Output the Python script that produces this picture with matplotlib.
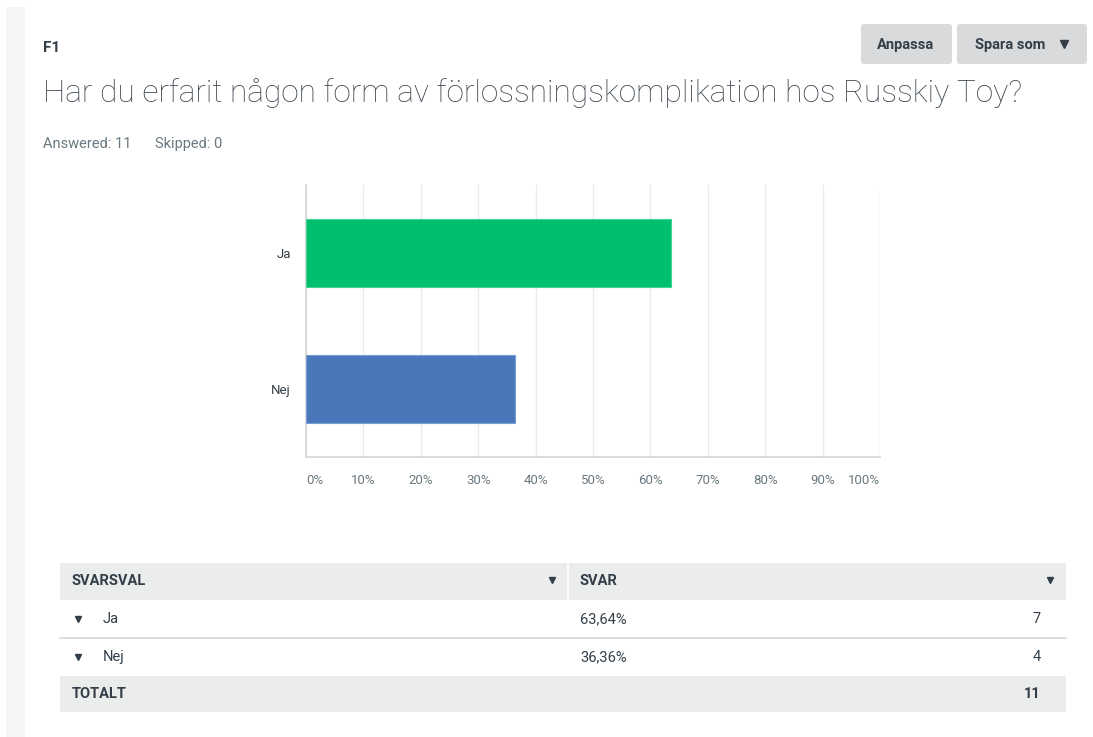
import matplotlib
matplotlib.use('Agg')
import matplotlib.pyplot as plt
from matplotlib.patches import Rectangle, FancyBboxPatch

plt.rcParams['font.family'] = ['Roboto', 'DejaVu Sans']

# survey data
question = 'Har du erfarit någon form av förlossningskomplikation hos Russkiy Toy?'
categories = ['Ja', 'Nej']
pct = [63.64, 36.36]          # percent of answers
counts = [7, 4]
pct_labels = ['63,64%', '36,36%']
answered = 11
skipped = 0
xticks = [0, 10, 20, 30, 40, 50, 60, 70, 80, 90, 100]
bar_cols = ['#00bf6f', '#4a77b9']

W, H = 1093, 737
fig = plt.figure(figsize=(W/100, H/100), dpi=100)

# background layer in pixel coords
bg = fig.add_axes([0, 0, 1, 1], zorder=0)
bg.set_xlim(0, W)
bg.set_ylim(H, 0)
bg.axis('off')

txt = '#333e48'
bg.add_patch(Rectangle((6, 7), 19, H-7, color='#f4f5f5', lw=0))

bg.text(43, 52, 'F1', fontsize=11, fontweight='bold', color=txt, va='baseline')
bg.text(43, 102, question, fontsize=22.8, fontweight='light', color='#3c4650', va='baseline')
bg.text(43, 148, 'Answered: ' + str(answered), fontsize=10.5, color='#6b787f', va='baseline')
bg.text(155, 148, 'Skipped: ' + str(skipped), fontsize=10.5, color='#6b787f', va='baseline')

# buttons
for x0, w in [(861, 91), (957, 130)]:
    bg.add_patch(FancyBboxPatch((x0, 24), w, 40, boxstyle='round,pad=0,rounding_size=3',
                                color='#d9dadb', lw=0))
bg.text(906, 45, 'Anpassa', fontsize=10.5, fontweight='bold', color=txt, ha='center', va='center')
bg.text(1010, 45, 'Spara som', fontsize=10.5, fontweight='bold', color=txt, ha='center', va='center')
bg.plot([1064], [44], marker='v', ms=5.5, color=txt)

# table
tab_gray = '#ebecec'
bg.add_patch(Rectangle((60, 563), 507, 37, color=tab_gray, lw=0))
bg.add_patch(Rectangle((569, 563), 497, 37, color=tab_gray, lw=0))
bg.add_patch(Rectangle((60, 676), 1006, 36, color=tab_gray, lw=0))
bg.plot([60, 1066], [638, 638], color='#d5d7d8', lw=1.2)
bg.text(72, 581, 'SVARSVAL', fontsize=10.5, fontweight='bold', color=txt, va='center')
bg.text(580, 581, 'SVAR', fontsize=10.5, fontweight='bold', color=txt, va='center')
bg.plot([552, 1050], [580, 580], ls='none', marker='v', ms=5, color=txt)
row_y = [619, 657]
for i, cat in enumerate(categories):
    bg.plot([78], [row_y[i]], marker='v', ms=5, color=txt)
    bg.text(103, row_y[i], cat, fontsize=10.5, color=txt, va='center')
    bg.text(580, row_y[i], pct_labels[i], fontsize=10.5, color=txt, va='center')
    bg.text(1041, row_y[i], str(counts[i]), fontsize=10.5, color=txt, va='center', ha='right')
bg.text(72, 694, 'TOTALT', fontsize=10.5, fontweight='bold', color=txt, va='center')
bg.text(1041, 694, str(sum(counts)), fontsize=10.5, fontweight='bold', color=txt, va='center', ha='right')

# bar chart
ax = fig.add_axes([306/W, 1-457/H, 574/W, 272/H], zorder=1)
ax.patch.set_alpha(0)
ypos = list(range(len(categories)))
ax.barh(ypos, pct, height=0.5, color=bar_cols, edgecolor=['#3fd394', '#7a9ed2'], lw=0.8, zorder=3)
ax.set_ylim(len(categories)-0.5, -0.5)
ax.set_xlim(0, 100)
ax.set_xticks(xticks)
ax.set_xticklabels([])
ax.grid(axis='x', color='#ebebeb', lw=1, zorder=0)
for s in ['top', 'right']:
    ax.spines[s].set_visible(False)
for s in ['left', 'bottom']:
    ax.spines[s].set_color('#d6d6d6')
    ax.spines[s].set_linewidth(1.2)
ax.tick_params(length=0)
ax.set_yticks(ypos)
ax.set_yticklabels(categories, fontsize=9.5, color=txt)
ax.tick_params(axis='y', pad=11)
for t in xticks:
    ha = 'left' if t == 0 else ('right' if t == 100 else 'center')
    ax.text(t, 1.0 + 0.5 + 23/136, str(t) + '%', fontsize=9.5, color='#6b787f', ha=ha, va='center')

fig.savefig('out.png', dpi=100)
